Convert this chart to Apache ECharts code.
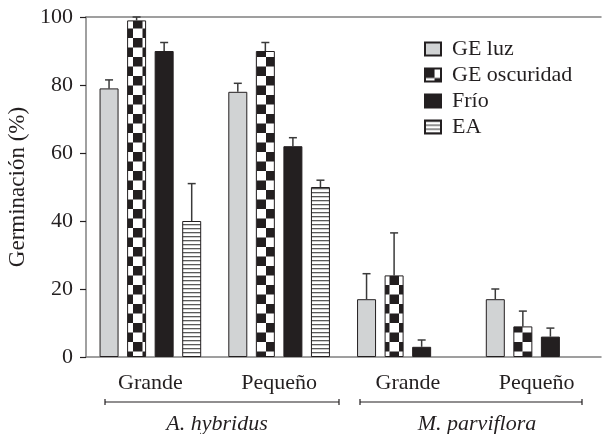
<!DOCTYPE html>
<html>
<head>
<meta charset="utf-8">
<script src="https://cdn.jsdelivr.net/npm/echarts@6/dist/echarts.min.js"></script>
<style>
  html, body { margin: 0; padding: 0; background: #fff; }
  #chart { width: 603px; height: 434px; }
</style>
</head>
<body>
<div id="chart"></div>
<script>
// Seed size classes (tick labels) and the species they belong to
const sizes = ['Grande', 'Pequeño', 'Grande', 'Pequeño'];
const species = ['A. hybridus', 'M. parviflora'];
const seriesNames = ['GE luz', 'GE oscuridad', 'Frío', 'EA'];

// Germination (%) per treatment, one value per size class
const geLuz = [79, 78, 17, 17];
const geOscuridad = [99, 90, 24, 9];
const frio = [90, 62, 3, 6];
const ea = [40, 50, null, null];

// Upper end of each error bar (%)
const geLuzErr = [81.5, 80.5, 24.5, 20];
const geOscuridadErr = [100, 92.5, 36.5, 13.5];
const frioErr = [92.5, 64.5, 5, 8.5];
const eaErr = [51, 52, null, null];

const yTicks = [0, 20, 40, 60, 80, 100];

const INK = '#231f20';
const FONT = '"Liberation Serif", "Times New Roman", serif';
const FS = 22;

function makePattern(w, h, draw) {
  const c = document.createElement('canvas');
  c.width = w; c.height = h;
  const ctx = c.getContext('2d');
  draw(ctx);
  return { image: c, repeat: 'repeat' };
}
const checker = makePattern(19, 19, ctx => {
  ctx.fillStyle = '#ffffff'; ctx.fillRect(0, 0, 19, 19);
  ctx.fillStyle = INK;
  ctx.fillRect(0, 0, 9.5, 9.5);
  ctx.fillRect(9.5, 9.5, 9.5, 9.5);
});
const stripes = makePattern(4, 4, ctx => {
  ctx.fillStyle = '#ffffff'; ctx.fillRect(0, 0, 4, 4);
  ctx.fillStyle = '#5a5a5a'; ctx.fillRect(0, 0, 4, 1.3);
});

const values = [geLuz, geOscuridad, frio, ea];
const errs = [geLuzErr, geOscuridadErr, frioErr, eaErr];
const fills = ['#d1d3d4', checker, INK, stripes];

const BAR_W = 19;
const BAR_GAP = 0.45;
const pitch = BAR_W * (1 + BAR_GAP);

const chart = echarts.init(document.getElementById('chart'), null, { renderer: 'canvas' });

const barSeries = values.map((v, i) => ({
  name: seriesNames[i],
  type: 'bar',
  data: v,
  barWidth: BAR_W,
  barGap: (BAR_GAP * 100) + '%',
  itemStyle: { color: fills[i], borderColor: INK, borderWidth: 1 },
  emphasis: { disabled: true },
  z: 2
}));

const errSeries = errs.map((e, i) => ({
  type: 'custom',
  data: e.map((hi, k) => (hi == null ? null : [k, values[i][k], hi])),
  encode: { x: 0, y: [1, 2] },
  z: 1,
  silent: true,
  renderItem: function (params, api) {
    const k = api.value(0);
    const base = api.coord([k, api.value(1)]);
    const top = api.coord([k, api.value(2)]);
    const x = base[0] + (i - 1.5) * pitch;
    const style = { stroke: '#3a3a3a', lineWidth: 1.5 };
    return {
      type: 'group',
      children: [
        { type: 'line', shape: { x1: x, y1: base[1], x2: x, y2: top[1] }, style },
        { type: 'line', shape: { x1: x - 4, y1: top[1], x2: x + 4, y2: top[1] }, style }
      ]
    };
  }
}));

const lineStyle = { stroke: INK, lineWidth: 1.2 };
function bracket(x1, x2, y) {
  return [
    { type: 'line', shape: { x1, y1: y, x2, y2: y }, style: lineStyle },
    { type: 'line', shape: { x1, y1: y - 3, x2: x1, y2: y + 3 }, style: lineStyle },
    { type: 'line', shape: { x1: x2, y1: y - 3, x2, y2: y + 3 }, style: lineStyle }
  ];
}

chart.setOption({
  animation: false,
  backgroundColor: '#ffffff',
  textStyle: { fontFamily: FONT, color: INK },
  grid: { left: 86, right: 2, top: 17, bottom: 77, containLabel: false, outerBoundsMode: 'none' },
  legend: {
    orient: 'vertical',
    left: 419,
    top: 33,
    icon: 'rect',
    itemWidth: 16,
    itemHeight: 13,
    itemGap: 4,
    data: seriesNames,
    selectedMode: false,
    textStyle: { fontFamily: FONT, fontSize: FS, color: INK, padding: [0, 0, 0, 6] }
  },
  xAxis: [{
    type: 'category',
    data: sizes,
    axisLine: { lineStyle: { color: '#808080', width: 1.5 } },
    axisTick: { alignWithLabel: true, length: 6, lineStyle: { color: INK, width: 1.2 } },
    axisLabel: { fontFamily: FONT, fontSize: FS, color: INK, margin: 15 }
  }, {
    type: 'category',
    position: 'top',
    data: sizes,
    axisLine: { show: true, lineStyle: { color: '#808080', width: 1.5 } },
    axisTick: { show: false },
    axisLabel: { show: false }
  }],
  yAxis: {
    type: 'value',
    min: yTicks[0],
    max: yTicks[yTicks.length - 1],
    interval: 20,
    name: 'Germinación (%)',
    nameLocation: 'middle',
    nameRotate: 90,
    nameGap: 54,
    nameTextStyle: { fontFamily: FONT, fontSize: 23, color: INK },
    axisLine: { show: true, lineStyle: { color: '#808080', width: 1.5 } },
    axisTick: { show: true, length: 6, lineStyle: { color: INK, width: 1.2 } },
    axisLabel: { fontFamily: FONT, fontSize: FS, color: INK, margin: 13 },
    splitLine: { show: false }
  },
  graphic: [
    ...bracket(105, 339, 402),
    ...bracket(360, 582, 402),
    { type: 'text', x: 217, y: 424, style: { text: species[0], font: 'italic ' + FS + 'px ' + FONT, fill: INK, align: 'center', verticalAlign: 'middle' } },
    { type: 'text', x: 477, y: 424, style: { text: species[1], font: 'italic ' + FS + 'px ' + FONT, fill: INK, align: 'center', verticalAlign: 'middle' } }
  ],
  series: [...barSeries, ...errSeries]
});
</script>
</body>
</html>
